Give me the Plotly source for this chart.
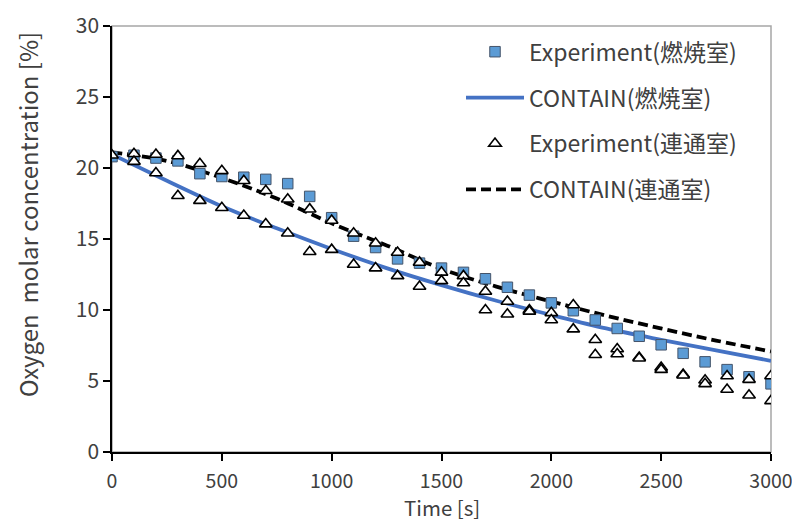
import plotly.graph_objects as go

# ---- data ----
time_exp = [0, 100, 200, 300, 400, 500, 600, 700, 800, 900, 1000, 1100, 1200, 1300, 1400, 1500,
            1600, 1700, 1800, 1900, 2000, 2100, 2200, 2300, 2400, 2500, 2600, 2700, 2800, 2900, 3000]
exp_fire = [20.8, 20.9, 20.7, 20.5, 19.6, 19.4, 19.35, 19.2, 18.9, 18.0, 16.5, 15.2, 14.4, 13.6, 13.3, 12.95,
            12.65, 12.2, 11.6, 11.05, 10.5, 9.95, 9.3, 8.7, 8.15, 7.55, 6.95, 6.35, 5.8, 5.3, 4.8]

time_conn_a = [0, 100, 200, 300, 400, 500, 600, 700, 800, 900, 1000, 1100, 1200, 1300, 1400, 1500,
               1600, 1700, 1800, 1900, 2000, 2100, 2200, 2300, 2400, 2500, 2600, 2700, 2800, 2900, 3000]
exp_conn_a = [20.9, 21.0, 20.95, 20.85, 20.3, 19.8, 19.1, 18.4, 17.8, 17.1, 16.3, 15.4, 14.7, 14.05, 13.35, 12.65,
              12.4, 11.3, 10.6, 10.0, 9.8, 10.35, 7.9, 7.25, 6.65, 5.95, 5.45, 5.05, 5.35, 5.1, 5.35]
time_conn_b = [100, 200, 300, 400, 500, 600, 700, 800, 900, 1000, 1100, 1200, 1300, 1400, 1500,
               1600, 1700, 1800, 1900, 2000, 2100, 2200, 2300, 2400, 2500, 2600, 2700, 2800, 2900, 3000]
exp_conn_b = [20.45, 19.65, 18.05, 17.7, 17.2, 16.65, 16.05, 15.4, 14.1, 14.25, 13.2, 12.95, 12.4, 11.65, 12.05,
              11.9, 10.0, 9.7, 9.9, 9.3, 8.65, 6.85, 6.9, 6.6, 5.8, 5.4, 4.8, 4.4, 4.0, 3.6]

time_model = [0, 250, 500, 750, 1000, 1250, 1500, 1750, 2000, 2250, 2500, 2750, 3000]
contain_fire = [20.95, 19.1, 17.3, 15.75, 14.3, 12.95, 11.75, 10.65, 9.65, 8.7, 7.9, 7.15, 6.42]
contain_conn = [21.1, 20.5, 19.3, 17.85, 16.1, 14.55, 12.9, 11.65, 10.6, 9.6, 8.7, 7.85, 7.08]

x_ticks = [0, 500, 1000, 1500, 2000, 2500, 3000]
y_ticks = [0, 5, 10, 15, 20, 25, 30]

names = ["Experiment(燃焼室)", "CONTAIN(燃焼室)", "Experiment(連通室)", "CONTAIN(連通室)"]
x_title = "Time [s]"
y_title = "Oxygen\u00a0 molar concentration [%]"

FONT = "Noto Sans CJK JP"
TXT = "#404040"

fig = go.Figure()

fig.add_trace(go.Scatter(
    x=time_model, y=contain_fire, mode="lines", name=names[1], legendgroup="b", legendrank=2,
    line=dict(color="#4472C4", width=3.8, shape="spline"),
))
fig.add_trace(go.Scatter(
    x=time_model, y=contain_conn, mode="lines", name=names[3], legendgroup="d", legendrank=4,
    line=dict(color="black", width=3.8, dash="10px,5px", shape="spline"),
))
fig.add_trace(go.Scatter(
    x=time_exp, y=exp_fire, mode="markers", name=names[0], legendgroup="a", legendrank=1,
    marker=dict(symbol="square", size=10.5, color="#5B9BD5", line=dict(color="#44546A", width=1)),
))
fig.add_trace(go.Scatter(
    x=time_conn_a + time_conn_b, y=exp_conn_a + exp_conn_b, mode="markers", name=names[2],
    legendgroup="c", legendrank=3,
    marker=dict(symbol="triangle-up", size=11, color="white", line=dict(color="black", width=1.6)),
))

# gray frame (top/right border of plot area)
fig.add_shape(type="rect", xref="paper", yref="paper", x0=0, x1=1, y0=0, y1=1,
              line=dict(color="#A6A6A6", width=1.5), layer="below")

# axis titles as annotations (positioned like the reference)
fig.add_annotation(text=x_title, xref="paper", yref="paper", x=0.5, y=-0.1294,
                   xanchor="center", yanchor="middle", showarrow=False, borderpad=0,
                   font=dict(family=FONT, size=20.5, color=TXT))
fig.add_annotation(text=y_title, xref="paper", yref="paper", x=-0.129, y=0.558,
                   xanchor="center", yanchor="middle", showarrow=False, textangle=-90,
                   font=dict(family=FONT, size=24, color=TXT))

# page body has an 8px default margin -> compensate
fig.update_layout(
    width=792, height=514,
    margin=dict(l=104, r=29, t=18, b=70, autoexpand=False),
    paper_bgcolor="white", plot_bgcolor="white",
    font=dict(family=FONT, size=21, color=TXT),
    showlegend=True,
    legend=dict(
        x=0.5296, y=0.99, xanchor="left", yanchor="top",
        bgcolor="rgba(0,0,0,0)", borderwidth=0,
        font=dict(family=FONT, size=23, color=TXT),
        itemwidth=58, tracegroupgap=13, traceorder="grouped",
    ),
    xaxis=dict(
        range=[0, 3000], tickvals=x_ticks, ticktext=[str(v) for v in x_ticks],
        showgrid=False, zeroline=False, showline=True, linecolor="black", linewidth=1.5,
        ticks="outside", ticklen=7, tickcolor="black", tickwidth=1.5,
        tickfont=dict(size=19.5), ticklabelstandoff=4,
    ),
    yaxis=dict(
        range=[0, 30], tickvals=y_ticks, ticktext=[str(v) for v in y_ticks],
        showgrid=False, zeroline=False, showline=True, linecolor="black", linewidth=1.5,
        ticks="outside", ticklen=7, tickcolor="black", tickwidth=1.5,
        tickfont=dict(size=21),
    ),
)

fig.write_html("out.html")
